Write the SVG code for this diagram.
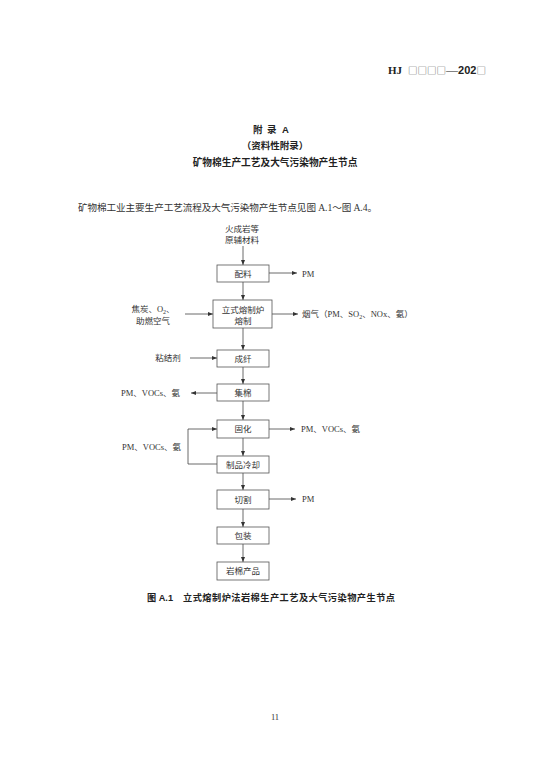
<svg xmlns="http://www.w3.org/2000/svg" width="550" height="777" viewBox="0 0 550 777">
<defs>
<marker id="ah" markerUnits="userSpaceOnUse" markerWidth="6" markerHeight="4" refX="5" refY="2" orient="auto">
<path d="M0,0 L5,2 L0,4 z" fill="#333"/>
</marker>
<style>
.bx{fill:#fff;stroke:#555;stroke-width:0.8}
.ln{fill:none;stroke:#444;stroke-width:0.8;marker-end:url(#ah)}
.t{font-family:"Liberation Serif","Noto Sans CJK SC",serif;font-size:8.5px;fill:#333}
.c{text-anchor:middle}
.h{font-family:"Liberation Sans","Noto Sans CJK SC",sans-serif;font-weight:bold;fill:#222}
.p{font-family:"Liberation Serif","Noto Sans CJK SC",serif;font-size:9.6px;fill:#333}
.sq{font-family:"Noto Sans CJK SC",sans-serif;font-weight:normal;font-size:9.5px;fill:#555}
</style>
</defs>
<rect width="550" height="777" fill="#fff"/>
<text class="h" x="388" y="74" font-size="11"><tspan font-family="Liberation Serif, serif">HJ</tspan><tspan x="408" class="sq">□□□□</tspan><tspan font-family="Liberation Serif, serif" font-weight="normal" font-size="12">—</tspan>202<tspan class="sq">□</tspan></text>
<text class="h" x="253" y="133" font-size="9.5">附</text>
<text class="h" x="267" y="133" font-size="9.5">录</text>
<text class="h" x="282" y="133" font-size="9.5">A</text>
<text class="h c" x="275" y="149" font-size="9.5">（资料性附录）</text>
<text class="h c" x="275" y="166" font-size="9.7">矿物棉生产工艺及大气污染物产生节点</text>
<text class="p" x="78" y="211" textLength="299" lengthAdjust="spacing">矿物棉工业主要生产工艺流程及大气污染物产生节点见图 A.1～图 A.4。</text>

<g id="connectors">
<line class="ln" x1="243" y1="246" x2="243" y2="265"/>
<line class="ln" x1="243" y1="282" x2="243" y2="300"/>
<line class="ln" x1="243" y1="328" x2="243" y2="350"/>
<line class="ln" x1="243" y1="367" x2="243" y2="384"/>
<line class="ln" x1="243" y1="401" x2="243" y2="420"/>
<line class="ln" x1="243" y1="438" x2="243" y2="456"/>
<line class="ln" x1="243" y1="473" x2="243" y2="490"/>
<line class="ln" x1="243" y1="509" x2="243" y2="527"/>
<line class="ln" x1="243" y1="544" x2="243" y2="562"/>
<line class="ln" x1="269" y1="273" x2="297" y2="273"/>
<line class="ln" x1="185" y1="314" x2="213" y2="314"/>
<line class="ln" x1="272" y1="314" x2="298" y2="314"/>
<line class="ln" x1="190" y1="358" x2="217" y2="358"/>
<line class="ln" x1="217" y1="393" x2="191" y2="393"/>
<line class="ln" x1="269" y1="429" x2="295" y2="429"/>
<polyline class="ln" points="217,464 188,464 188,429 217,429"/>
<line class="ln" x1="269" y1="499" x2="296" y2="499"/>
</g>

<g id="n-raw"><text class="t c" x="242" y="232">火成岩等</text><text class="t c" x="242" y="243">原辅材料</text></g>
<g id="n-peiliao"><rect class="bx" x="217" y="265" width="52" height="17"/><text class="t c" x="243" y="276.5">配料</text></g>
<g id="n-pm1"><text class="t" x="302" y="276.5">PM</text></g>
<g id="n-fuel"><text class="t c" x="153" y="312">焦炭、O<tspan font-size="6" dy="2">2</tspan><tspan dy="-2">、</tspan></text><text class="t c" x="153" y="324">助燃空气</text></g>
<g id="n-furnace"><rect class="bx" x="213" y="300" width="59" height="28"/><text class="t c" x="243" y="312.5">立式熔制炉</text><text class="t c" x="243" y="324">熔制</text></g>
<g id="n-gas"><text class="t" x="302" y="317">烟气（PM、SO<tspan font-size="6" dy="2">2</tspan><tspan dy="-2">、NOx、氨）</tspan></text></g>
<g id="n-binder"><text class="t c" x="168" y="361">粘结剂</text></g>
<g id="n-chengxian"><rect class="bx" x="217" y="350" width="52" height="17"/><text class="t c" x="243" y="361.5">成纤</text></g>
<g id="n-em2"><text class="t" x="121" y="396">PM、VOCs、氨</text></g>
<g id="n-jimian"><rect class="bx" x="217" y="384" width="52" height="17"/><text class="t c" x="243" y="395.5">集棉</text></g>
<g id="n-guhua"><rect class="bx" x="217" y="420" width="52" height="18"/><text class="t c" x="243" y="432">固化</text></g>
<g id="n-em3"><text class="t" x="301" y="432">PM、VOCs、氨</text></g>
<g id="n-em4"><text class="t" x="122" y="450">PM、VOCs、氨</text></g>
<g id="n-cool"><rect class="bx" x="217" y="456" width="52" height="17"/><text class="t c" x="243" y="467.5">制品冷却</text></g>
<g id="n-cut"><rect class="bx" x="217" y="490" width="52" height="19"/><text class="t c" x="243" y="502.5">切割</text></g>
<g id="n-pm5"><text class="t" x="302" y="502">PM</text></g>
<g id="n-pack"><rect class="bx" x="217" y="527" width="52" height="17"/><text class="t c" x="243" y="538.5">包装</text></g>
<g id="n-product"><rect class="bx" x="217" y="562" width="52" height="18"/><text class="t c" x="243" y="574">岩棉产品</text></g>

<text class="h" x="147" y="601" font-size="9.2">图 A.1</text>
<text class="h" x="183" y="601" font-size="9.2" textLength="212" lengthAdjust="spacing">立式熔制炉法岩棉生产工艺及大气污染物产生节点</text>
<text class="t c" x="275" y="720">11</text>
</svg>
